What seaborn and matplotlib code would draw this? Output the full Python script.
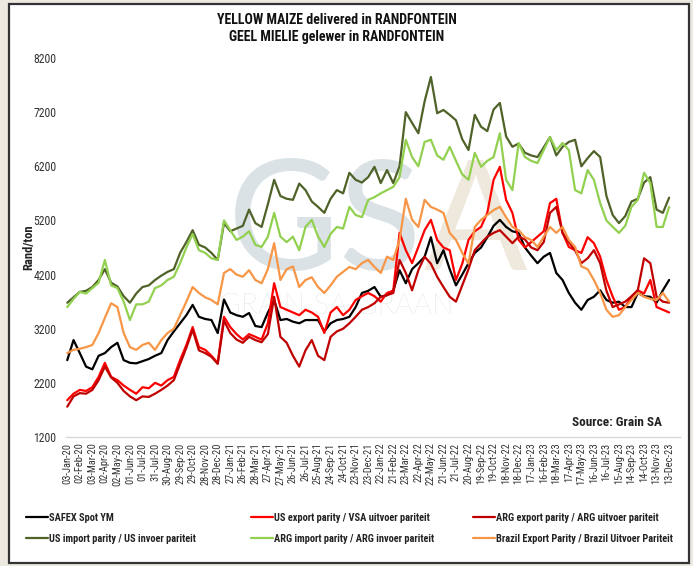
import matplotlib
matplotlib.use("Agg")
import pandas as pd
import numpy as np
import seaborn as sns
import matplotlib.pyplot as plt
from matplotlib.patches import Rectangle
from matplotlib import font_manager as fm

# ---------------- data (half-monthly) ----------------
dates = pd.date_range("2020-01-03", periods=97, freq="15D")
tick_dates = pd.date_range("2020-01-03", periods=49, freq="30D")

safex = [2620, 2990, 2750, 2500, 2450, 2700, 2750, 2860, 2940, 2620,
         2570, 2560, 2600, 2640, 2700, 2750, 2990, 3150, 3300, 3450,
         3640, 3420, 3380, 3360, 3120, 3740, 3500, 3450, 3420, 3490,
         3250, 3230, 3500, 3730, 3360, 3380, 3330, 3300, 3360, 3360,
         3360, 3150, 3300, 3360, 3380, 3420, 3600, 3860, 3900, 3970,
         3790, 3820, 3910, 4280, 4040, 4300, 4410, 4530, 4890, 4410,
         4650, 4300, 4000, 4200, 4410, 4600, 4700, 4890, 5100, 5210,
         5080, 5000, 4970, 4700, 4550, 4410, 4530, 4600, 4230, 4100,
         3860, 3680, 3550, 3730, 3790, 3910, 3730, 3680, 3700, 3600,
         3600, 3860, 3800, 3790, 3680, 3910, 4100]

us_export = [1880, 2000, 2070, 2050, 2120, 2310, 2570, 2310, 2250, 2150,
             2070, 2000, 2120, 2100, 2200, 2150, 2250, 2310, 2620, 2900,
             3230, 2860, 2810, 2700, 2570, 3420, 3230, 3100, 3000, 3100,
             3050, 3000, 3300, 4040, 3600, 3550, 3500, 3450, 3550, 3500,
             3420, 3120, 3500, 3600, 3450, 3550, 3730, 3800, 3860, 3800,
             3700, 3860, 3900, 4970, 4650, 4410, 4710, 5020, 5210, 4840,
             4700, 4650, 4100, 4400, 4840, 5000, 5080, 5340, 5950, 6190,
             5580, 5340, 4840, 4700, 4800, 4900, 5000, 5520, 5600, 4970,
             4710, 4650, 4600, 4890, 4780, 4530, 4100, 3790, 3550, 3600,
             3790, 3910, 3850, 4100, 3600, 3550, 3500]

arg_export = [1760, 1950, 2010, 2000, 2070, 2250, 2500, 2300, 2200, 2050,
              1950, 1880, 1950, 1940, 2000, 2070, 2150, 2250, 2550, 2850,
              3180, 2800, 2750, 2680, 2550, 3350, 3120, 3000, 2940, 3050,
              2990, 2950, 3100, 3790, 3050, 2940, 2700, 2500, 2800, 2990,
              2700, 2620, 3050, 3150, 3200, 3300, 3420, 3550, 3600, 3670,
              3790, 3820, 3860, 4470, 4230, 3910, 4280, 4530, 4400, 4160,
              3970, 3790, 3700, 4000, 4300, 4650, 4780, 4900, 4970, 5020,
              4900, 4780, 4900, 4850, 4700, 4650, 4800, 5340, 5450, 4970,
              4800, 4650, 4410, 4500, 4650, 4410, 3900, 3600, 3650, 3700,
              3800, 3910, 4500, 4410, 3790, 3700, 3680]

us_import = [3680, 3780, 3880, 3900, 3970, 4100, 4300, 4050, 3980, 3800,
             3680, 3850, 3970, 4000, 4100, 4180, 4250, 4300, 4600, 4800,
             5020, 4750, 4700, 4600, 4470, 5150, 5000, 5050, 5100, 5400,
             5150, 5080, 5500, 5950, 5650, 5600, 5580, 5880, 5760, 5550,
             5450, 5340, 5600, 5760, 5700, 6080, 5950, 5900, 6000, 6190,
             5890, 6130, 5890, 6200, 7200, 7000, 6810, 7400, 7850, 7180,
             7240, 7150, 7050, 6700, 6500, 7150, 6930, 6850, 7250, 7370,
             6750, 6560, 6620, 6450, 6400, 6370, 6550, 6740, 6400, 6560,
             6650, 6690, 6200, 6350, 6480, 6370, 5650, 5300, 5150, 5280,
             5550, 5600, 5900, 6000, 5400, 5340, 5620]

arg_import = [3600, 3750, 3880, 3850, 3950, 4050, 4470, 4000, 3950, 3700,
              3360, 3650, 3650, 3700, 3950, 4000, 4100, 4160, 4410, 4700,
              4950, 4650, 4600, 4500, 4470, 5200, 5020, 4840, 4900, 5000,
              4750, 4710, 4900, 5340, 4900, 4800, 4900, 4650, 5080, 5210,
              4900, 4710, 4950, 5080, 5050, 5450, 5300, 5260, 5580, 5630,
              5700, 5760, 5820, 6000, 6690, 6370, 6200, 6650, 6690, 6400,
              6320, 6560, 6300, 6050, 5950, 6450, 6190, 6300, 6370, 6810,
              5950, 5760, 6630, 6370, 6300, 6260, 6500, 6740, 6500, 6630,
              6500, 5760, 5700, 6130, 5950, 5520, 5200, 5080, 4970, 5100,
              5450, 5580, 6080, 5890, 5080, 5080, 5450]

brazil = [2750, 2810, 2830, 2860, 2900, 3120, 3400, 3670, 3600, 3120,
          2860, 2810, 2900, 2940, 2810, 2990, 3120, 3200, 3450, 3700,
          3970, 3860, 3780, 3730, 3650, 4230, 4300, 4200, 4160, 4280,
          4100, 4040, 4300, 4780, 4100, 4300, 4350, 3970, 4100, 4150,
          3970, 3860, 4000, 4160, 4250, 4340, 4300, 4410, 4470, 4340,
          4230, 4530, 4470, 4840, 5600, 5210, 5080, 5580, 5450, 5400,
          5340, 4970, 4840, 4600, 4400, 5080, 5210, 5300, 5390, 5450,
          5260, 5080, 5020, 4890, 4840, 4710, 4900, 5080, 4970, 5080,
          4840, 4710, 4350, 4300, 4100, 3860, 3550, 3420, 3450, 3600,
          3730, 3860, 3790, 3750, 3730, 3860, 3700]

series_names = ["SAFEX Spot YM",
                "US export parity / VSA uitvoer pariteit",
                "ARG export parity / ARG uitvoer pariteit",
                "US import parity / US invoer pariteit",
                "ARG import parity / ARG invoer pariteit",
                "Brazil Export Parity / Brazil Uitvoer Pariteit"]
series_values = [safex, us_export, arg_export, us_import, arg_import, brazil]
colors = ["#000000", "#FF0000", "#C00000", "#4F6228", "#92D050", "#F79646"]
y_ticks = [1200, 2200, 3200, 4200, 5200, 6200, 7200, 8200]

df = pd.concat([pd.DataFrame({"date": dates, "series": n, "value": v})
                for n, v in zip(series_names, series_values)], ignore_index=True)


# ---------------- font choice: prefer a narrow sans ----------------
def pick_narrow():
    ents = fm.fontManager.ttflist
    names = {f.name for f in ents}
    pref = ["Liberation Sans Narrow", "Arial Narrow", "Roboto Condensed",
            "Open Sans Condensed", "Noto Sans Condensed", "DejaVu Sans Condensed",
            "Noto Sans SemiCondensed", "Open Sans SemiCondensed"]
    for p in pref:
        if p in names:
            return p, "normal"
    for f in ents:
        if "Narrow" in f.name or "Condensed" in f.name:
            return f.name, "normal"
    for f in ents:
        if str(f.stretch) in ("condensed", "semi-condensed", "extra-condensed"):
            return f.name, "condensed"
    return None, "normal"


narrow, stretch = pick_narrow()
FAM = ([narrow] if narrow else []) + ["Liberation Sans", "DejaVu Sans"]

sns.set_theme(style="white")
plt.rcParams["font.family"] = FAM
plt.rcParams["font.stretch"] = stretch

W, H = 693, 566
fig = plt.figure(figsize=(W / 100, H / 100), dpi=100, facecolor="#ECEAE0")

fig.patches.append(Rectangle((9 / W, 3 / H), 680 / W, 559 / H, transform=fig.transFigure,
                             facecolor="white", edgecolor="#333333", lw=1.6, zorder=-10))

ax = fig.add_axes([66 / W, (H - 437) / H, 614 / W, 379 / H])
ax.set_facecolor("none")

# watermark logo (behind the lines)
wm_fam = ["Lato", "Open Sans", "DejaVu Sans"]
gs = ax.text(228 / W, 1 - 270 / H, "GS", transform=fig.transFigure, fontsize=110,
             family=wm_fam, weight="normal", stretch="normal", color="#DBE2E6",
             ha="left", va="baseline", zorder=0.5)
ax.text(336 / W, 1 - 306 / H, "GRAIN SA GRAAN", transform=fig.transFigure, fontsize=21,
        family=wm_fam, weight="light", stretch="normal", color="#D3D3D3",
        ha="center", va="center", zorder=0.6)

sns.lineplot(data=df, x="date", y="value", hue="series", hue_order=series_names,
             palette=colors, linewidth=1.6, ax=ax, legend=False, zorder=2)

ax.set_ylim(1200, 8200)
ax.set_yticks(y_ticks)
ax.set_yticklabels([str(t) for t in y_ticks])
ax.set_xlim(pd.Timestamp("2019-12-31"), pd.Timestamp("2024-01-08"))
ax.set_xticks(tick_dates)
ax.set_xticklabels([d.strftime("%d-%b-%y") for d in tick_dates], rotation=90)
ax.tick_params(axis="x", length=0, pad=4, labelsize=7.5, labelcolor="#333333")
ax.tick_params(axis="y", length=0, pad=7, labelsize=8.5, labelcolor="#333333")
for s in ["top", "right", "left"]:
    ax.spines[s].set_visible(False)
ax.spines["bottom"].set_color("#D9D9D9")
ax.spines["bottom"].set_linewidth(1)
ax.grid(False)
ax.set_xlabel("")
ax.set_ylabel("")

fig.text(29 / W, 1 - 247 / H, "Rand/ton", rotation=90, ha="center", va="center",
         fontsize=9, weight="bold", color="#222222")

fig.text(337 / W, 1 - 20 / H, "YELLOW MAIZE delivered in RANDFONTEIN", ha="center",
         va="center", fontsize=10, weight="bold", color="#111111")
fig.text(337 / W, 1 - 37 / H, "GEEL MIELIE gelewer in RANDFONTEIN", ha="center",
         va="center", fontsize=10, weight="bold", color="#111111")

fig.text(617 / W, 1 - 422 / H, "Source: Grain SA", ha="center", va="center",
         fontsize=9.5, weight="bold", color="#222222")

# place the "A" of the logo right after "GS"
fig.canvas.draw()
r = fig.canvas.get_renderer()
gbb = gs.get_window_extent(r)
ax.text((gbb.x1 + 1) / W, 1 - 270 / H, "A", transform=fig.transFigure, fontsize=110,
        family=wm_fam, weight="normal", stretch="normal", color="#EFE9DD",
        ha="left", va="baseline", zorder=0.5)

# legend: three columns at fixed positions, two rows each
lines = ax.get_lines()[:6]
col_x = [26, 251, 473]
col_idx = [(0, 3), (1, 4), (2, 5)]
limits = [245, 467, 684]
for size in [8.5, 8, 7.5, 7, 6.5, 6, 5.5]:
    legs = []
    for cx, (a, b) in zip(col_x, col_idx):
        lg = fig.legend([lines[a], lines[b]], [series_names[a], series_names[b]],
                        loc="upper left", bbox_to_anchor=(cx / W, 1 - 513 / H),
                        frameon=False, borderaxespad=0, borderpad=0,
                        handlelength=2.1, handletextpad=0.15, labelspacing=1.05,
                        prop={"family": FAM, "weight": "bold", "size": size,
                              "stretch": stretch})
        for t in lg.get_texts():
            t.set_color("#222222")
        legs.append(lg)
    fig.canvas.draw()
    ok = all(lg.get_window_extent(r).x1 <= lim for lg, lim in zip(legs, limits))
    if ok:
        break
    for lg in legs:
        lg.remove()

fig.savefig("out.png", dpi=100, facecolor=fig.get_facecolor())
